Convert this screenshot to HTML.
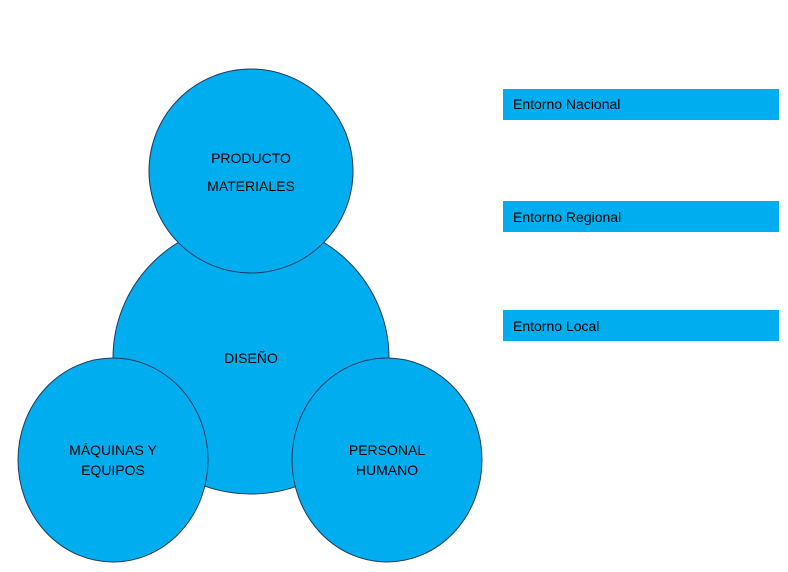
<!DOCTYPE html>
<html><head><meta charset="utf-8"><style>
body{margin:0;background:#fff;width:788px;height:567px;overflow:hidden}
svg text{font-family:"Liberation Sans",sans-serif;font-size:14px;fill:#000}
</style></head><body>
<svg width="788" height="567" xmlns="http://www.w3.org/2000/svg">
<g fill="#00AEEF" stroke="#1F3A5F" stroke-width="1">
<ellipse cx="251" cy="358" rx="138" ry="136"/>
<ellipse cx="251" cy="171" rx="102" ry="102"/>
<ellipse cx="113" cy="460" rx="95" ry="102"/>
<ellipse cx="387" cy="460" rx="95" ry="102"/>
</g>
<g text-anchor="middle">
<text x="251" y="163">PRODUCTO</text>
<text x="251" y="191">MATERIALES</text>
<text x="251" y="363">DISEÑO</text>
<text x="113" y="455">MÁQUINAS Y</text>
<text x="113" y="475">EQUIPOS</text>
<text x="387" y="455">PERSONAL</text>
<text x="387" y="475">HUMANO</text>
</g>
<g fill="#00AEEF">
<rect x="503" y="89" width="276" height="31"/>
<rect x="503" y="201" width="276" height="31"/>
<rect x="503" y="310" width="276" height="31"/>
</g>
<text x="513" y="109">Entorno Nacional</text>
<text x="513" y="222">Entorno Regional</text>
<text x="513" y="331">Entorno Local</text>
</svg>
</body></html>
